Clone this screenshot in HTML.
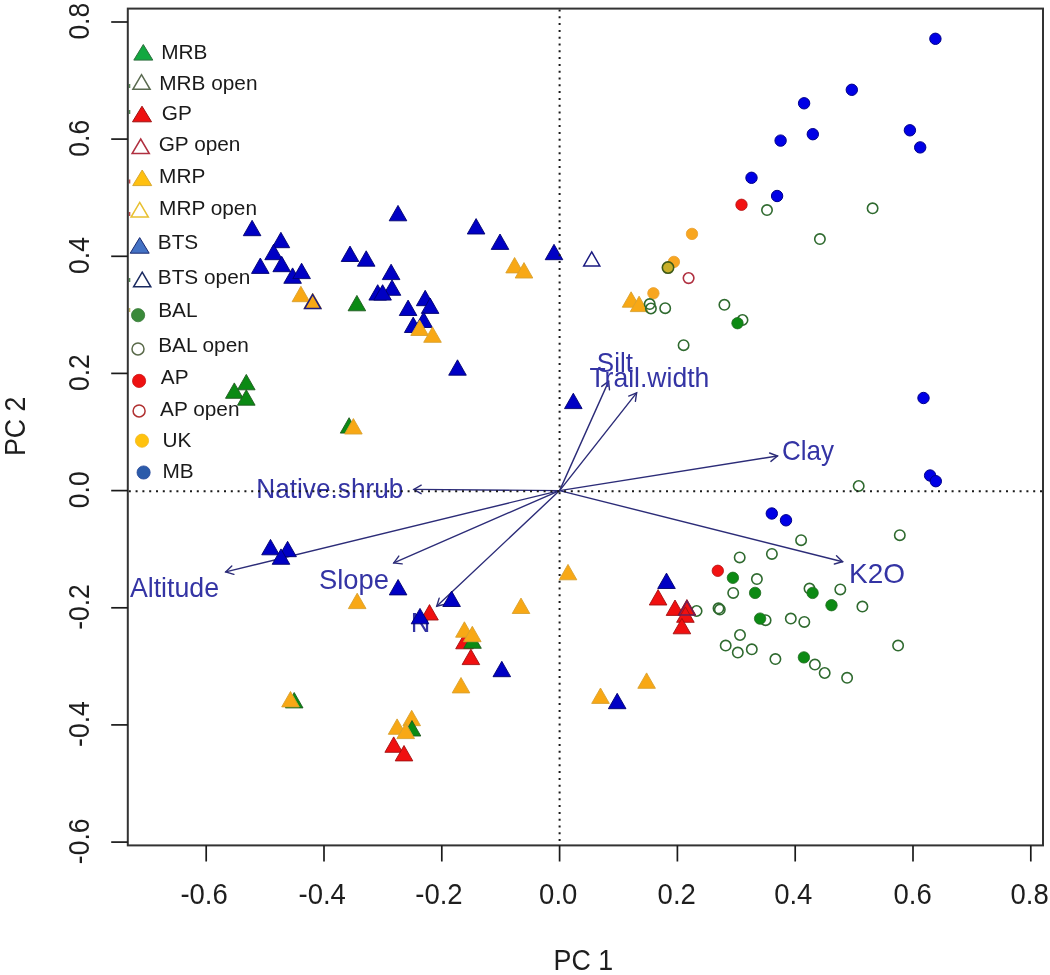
<!DOCTYPE html>
<html><head><meta charset="utf-8"><title>PCA biplot</title>
<style>
html,body{margin:0;padding:0;background:#fff;}
body{width:1050px;height:975px;overflow:hidden;}
svg{display:block;filter:blur(0.35px);}
</style></head>
<body>
<svg width="1050" height="975" viewBox="0 0 1050 975">
<rect width="1050" height="975" fill="#fff"/>
<g stroke="#2c2c78" stroke-width="1.4" fill="none" stroke-linecap="round">
<line x1="559.6" y1="490.6" x2="413.8" y2="489.4"/>
<path d="M421.2,485.2 L413.8,489.4 L421.1,493.7"/>
<line x1="559.6" y1="490.6" x2="225.7" y2="571.9"/>
<path d="M231.8,566.0 L225.7,571.9 L233.9,574.3"/>
<line x1="559.6" y1="490.6" x2="393.8" y2="562.9"/>
<path d="M398.8,556.1 L393.8,562.9 L402.2,563.9"/>
<line x1="559.6" y1="490.6" x2="436.7" y2="606.2"/>
<path d="M439.2,598.1 L436.7,606.2 L445.0,604.3"/>
<line x1="559.6" y1="490.6" x2="608.6" y2="381.4"/>
<path d="M609.5,389.9 L608.6,381.4 L601.7,386.4"/>
<line x1="559.6" y1="490.6" x2="636.6" y2="392.9"/>
<path d="M635.4,401.3 L636.6,392.9 L628.7,396.1"/>
<line x1="559.6" y1="490.6" x2="777.5" y2="456.0"/>
<path d="M770.9,461.4 L777.5,456.0 L769.6,453.0"/>
<line x1="559.6" y1="490.6" x2="842.6" y2="561.7"/>
<path d="M834.4,564.0 L842.6,561.7 L836.5,555.8"/>
</g>
<g font-family="Liberation Sans, sans-serif" font-size="27.5" fill="#3434a4">
<text x="256.26" y="498.3" textLength="147.12" lengthAdjust="spacingAndGlyphs">Native.shrub</text>
<text x="129.88" y="597.4" textLength="89.21" lengthAdjust="spacingAndGlyphs">Altitude</text>
<text x="319.06" y="589.0" textLength="69.95" lengthAdjust="spacingAndGlyphs">Slope</text>
<text x="410.68" y="632.3" textLength="19.63" lengthAdjust="spacingAndGlyphs">N</text>
<text x="596.82" y="371.6" textLength="36.07" lengthAdjust="spacingAndGlyphs">Silt</text>
<text x="589.40" y="386.5" textLength="119.93" lengthAdjust="spacingAndGlyphs">Trail.width</text>
<text x="782.00" y="459.7" textLength="52.13" lengthAdjust="spacingAndGlyphs">Clay</text>
<text x="849.01" y="583.3" textLength="55.99" lengthAdjust="spacingAndGlyphs">K2O</text>
</g>
<circle cx="935.4" cy="38.8" r="5.7" fill="#0000e6" stroke="#00008a" stroke-width="1"/>
<circle cx="851.8" cy="89.8" r="5.7" fill="#0000e6" stroke="#00008a" stroke-width="1"/>
<circle cx="804.1" cy="103.3" r="5.7" fill="#0000e6" stroke="#00008a" stroke-width="1"/>
<circle cx="909.9" cy="130.3" r="5.7" fill="#0000e6" stroke="#00008a" stroke-width="1"/>
<circle cx="812.8" cy="134.2" r="5.7" fill="#0000e6" stroke="#00008a" stroke-width="1"/>
<circle cx="780.6" cy="140.6" r="5.7" fill="#0000e6" stroke="#00008a" stroke-width="1"/>
<circle cx="920.2" cy="147.4" r="5.7" fill="#0000e6" stroke="#00008a" stroke-width="1"/>
<circle cx="751.5" cy="177.8" r="5.7" fill="#0000e6" stroke="#00008a" stroke-width="1"/>
<circle cx="777.1" cy="196.0" r="5.7" fill="#0000e6" stroke="#00008a" stroke-width="1"/>
<circle cx="923.5" cy="398.0" r="5.7" fill="#0000e6" stroke="#00008a" stroke-width="1"/>
<circle cx="930.1" cy="475.5" r="5.7" fill="#0000e6" stroke="#00008a" stroke-width="1"/>
<circle cx="935.8" cy="481.2" r="5.7" fill="#0000e6" stroke="#00008a" stroke-width="1"/>
<circle cx="771.8" cy="513.5" r="5.7" fill="#0000e6" stroke="#00008a" stroke-width="1"/>
<circle cx="786.0" cy="520.3" r="5.7" fill="#0000e6" stroke="#00008a" stroke-width="1"/>
<circle cx="741.5" cy="204.8" r="5.7" fill="#f21212" stroke="#b01010" stroke-width="0.8"/>
<circle cx="717.8" cy="570.8" r="5.7" fill="#f21212" stroke="#b01010" stroke-width="0.8"/>
<circle cx="688.6" cy="278.1" r="5.3" fill="none" stroke="#b03040" stroke-width="1.6"/>
<circle cx="692.0" cy="233.9" r="5.7" fill="#f8a620" stroke="#e8a030" stroke-width="0.8"/>
<circle cx="673.9" cy="261.9" r="5.7" fill="#f8a620" stroke="#e8a030" stroke-width="0.8"/>
<circle cx="653.4" cy="293.3" r="5.7" fill="#f8a620" stroke="#e8a030" stroke-width="0.8"/>
<circle cx="668.0" cy="267.6" r="5.7" fill="#c8b02a" stroke="#3e5a18" stroke-width="1.6"/>
<circle cx="767.0" cy="210.1" r="5.2" fill="none" stroke="#2f6a2f" stroke-width="1.6"/>
<circle cx="872.6" cy="208.3" r="5.2" fill="none" stroke="#2f6a2f" stroke-width="1.6"/>
<circle cx="819.9" cy="239.1" r="5.2" fill="none" stroke="#2f6a2f" stroke-width="1.6"/>
<circle cx="724.4" cy="304.8" r="5.2" fill="none" stroke="#2f6a2f" stroke-width="1.6"/>
<circle cx="742.5" cy="320.0" r="5.2" fill="none" stroke="#2f6a2f" stroke-width="1.6"/>
<circle cx="683.6" cy="345.2" r="5.2" fill="none" stroke="#2f6a2f" stroke-width="1.6"/>
<circle cx="858.7" cy="486.0" r="5.2" fill="none" stroke="#2f6a2f" stroke-width="1.6"/>
<circle cx="899.8" cy="535.2" r="5.2" fill="none" stroke="#2f6a2f" stroke-width="1.6"/>
<circle cx="801.1" cy="540.2" r="5.2" fill="none" stroke="#2f6a2f" stroke-width="1.6"/>
<circle cx="739.7" cy="557.4" r="5.2" fill="none" stroke="#2f6a2f" stroke-width="1.6"/>
<circle cx="771.9" cy="553.9" r="5.2" fill="none" stroke="#2f6a2f" stroke-width="1.6"/>
<circle cx="756.9" cy="579.1" r="5.2" fill="none" stroke="#2f6a2f" stroke-width="1.6"/>
<circle cx="733.2" cy="592.9" r="5.2" fill="none" stroke="#2f6a2f" stroke-width="1.6"/>
<circle cx="809.5" cy="588.6" r="5.2" fill="none" stroke="#2f6a2f" stroke-width="1.6"/>
<circle cx="840.3" cy="589.4" r="5.2" fill="none" stroke="#2f6a2f" stroke-width="1.6"/>
<circle cx="862.4" cy="606.6" r="5.2" fill="none" stroke="#2f6a2f" stroke-width="1.6"/>
<circle cx="718.5" cy="608.3" r="5.2" fill="none" stroke="#2f6a2f" stroke-width="1.6"/>
<circle cx="719.8" cy="609.6" r="5.2" fill="none" stroke="#2f6a2f" stroke-width="1.6"/>
<circle cx="696.6" cy="611.0" r="5.2" fill="none" stroke="#2f6a2f" stroke-width="1.6"/>
<circle cx="765.6" cy="620.2" r="5.2" fill="none" stroke="#2f6a2f" stroke-width="1.6"/>
<circle cx="790.8" cy="618.6" r="5.2" fill="none" stroke="#2f6a2f" stroke-width="1.6"/>
<circle cx="804.3" cy="621.9" r="5.2" fill="none" stroke="#2f6a2f" stroke-width="1.6"/>
<circle cx="740.0" cy="635.0" r="5.2" fill="none" stroke="#2f6a2f" stroke-width="1.6"/>
<circle cx="725.7" cy="645.6" r="5.2" fill="none" stroke="#2f6a2f" stroke-width="1.6"/>
<circle cx="737.8" cy="652.6" r="5.2" fill="none" stroke="#2f6a2f" stroke-width="1.6"/>
<circle cx="751.8" cy="649.3" r="5.2" fill="none" stroke="#2f6a2f" stroke-width="1.6"/>
<circle cx="775.4" cy="659.1" r="5.2" fill="none" stroke="#2f6a2f" stroke-width="1.6"/>
<circle cx="814.9" cy="664.6" r="5.2" fill="none" stroke="#2f6a2f" stroke-width="1.6"/>
<circle cx="824.7" cy="673.0" r="5.2" fill="none" stroke="#2f6a2f" stroke-width="1.6"/>
<circle cx="847.1" cy="677.8" r="5.2" fill="none" stroke="#2f6a2f" stroke-width="1.6"/>
<circle cx="898.1" cy="645.6" r="5.2" fill="none" stroke="#2f6a2f" stroke-width="1.6"/>
<circle cx="737.5" cy="323.2" r="5.7" fill="#0d8a14" stroke="#1f6a1f" stroke-width="0.8"/>
<circle cx="732.9" cy="577.8" r="5.7" fill="#0d8a14" stroke="#1f6a1f" stroke-width="0.8"/>
<circle cx="755.1" cy="592.9" r="5.7" fill="#0d8a14" stroke="#1f6a1f" stroke-width="0.8"/>
<circle cx="812.6" cy="592.9" r="5.7" fill="#0d8a14" stroke="#1f6a1f" stroke-width="0.8"/>
<circle cx="831.5" cy="605.2" r="5.7" fill="#0d8a14" stroke="#1f6a1f" stroke-width="0.8"/>
<circle cx="760.1" cy="618.6" r="5.7" fill="#0d8a14" stroke="#1f6a1f" stroke-width="0.8"/>
<circle cx="803.9" cy="657.4" r="5.7" fill="#0d8a14" stroke="#1f6a1f" stroke-width="0.8"/>
<g stroke-width="0.9" stroke-linejoin="miter">
<polygon points="252.1,220.3 260.9,235.7 243.3,235.7" fill="#0000c4" stroke="#00006e"/>
<polygon points="280.9,232.3 289.7,247.7 272.1,247.7" fill="#0000c4" stroke="#00006e"/>
<polygon points="273.6,244.3 282.4,259.7 264.8,259.7" fill="#0000c4" stroke="#00006e"/>
<polygon points="260.3,258.0 269.1,273.4 251.5,273.4" fill="#0000c4" stroke="#00006e"/>
<polygon points="281.7,256.3 290.5,271.7 272.9,271.7" fill="#0000c4" stroke="#00006e"/>
<polygon points="292.6,267.9 301.4,283.3 283.8,283.3" fill="#0000c4" stroke="#00006e"/>
<polygon points="301.6,263.2 310.4,278.6 292.8,278.6" fill="#0000c4" stroke="#00006e"/>
<polygon points="300.9,286.3 309.7,301.7 292.1,301.7" fill="#f8a815" stroke="#d8a030"/>
<polygon points="312.7,293.2 321.5,308.6 303.9,308.6" fill="#f8a815" stroke="#d8a030"/>
<polygon points="356.9,295.4 365.7,310.8 348.1,310.8" fill="#0b8a14" stroke="#1f5a1f"/>
<polygon points="398.0,205.4 406.8,220.8 389.2,220.8" fill="#0000c4" stroke="#00006e"/>
<polygon points="350.0,246.1 358.8,261.5 341.2,261.5" fill="#0000c4" stroke="#00006e"/>
<polygon points="366.2,250.8 375.0,266.2 357.4,266.2" fill="#0000c4" stroke="#00006e"/>
<polygon points="391.1,264.2 399.9,279.6 382.3,279.6" fill="#0000c4" stroke="#00006e"/>
<polygon points="392.0,279.9 400.8,295.3 383.2,295.3" fill="#0000c4" stroke="#00006e"/>
<polygon points="377.7,284.7 386.5,300.1 368.9,300.1" fill="#0000c4" stroke="#00006e"/>
<polygon points="382.6,284.7 391.4,300.1 373.8,300.1" fill="#0000c4" stroke="#00006e"/>
<polygon points="425.2,290.3 434.0,305.7 416.4,305.7" fill="#0000c4" stroke="#00006e"/>
<polygon points="430.1,298.0 438.9,313.4 421.3,313.4" fill="#0000c4" stroke="#00006e"/>
<polygon points="408.1,300.1 416.9,315.5 399.3,315.5" fill="#0000c4" stroke="#00006e"/>
<polygon points="413.2,317.1 422.0,332.5 404.4,332.5" fill="#0000c4" stroke="#00006e"/>
<polygon points="423.6,312.1 432.4,327.5 414.8,327.5" fill="#0000c4" stroke="#00006e"/>
<polygon points="419.6,320.1 428.4,335.5 410.8,335.5" fill="#f8a815" stroke="#d8a030"/>
<polygon points="432.5,326.9 441.3,342.3 423.7,342.3" fill="#f8a815" stroke="#d8a030"/>
<polygon points="476.1,218.6 484.9,234.0 467.3,234.0" fill="#0000c4" stroke="#00006e"/>
<polygon points="500.0,234.0 508.8,249.4 491.2,249.4" fill="#0000c4" stroke="#00006e"/>
<polygon points="514.6,257.5 523.4,272.9 505.8,272.9" fill="#f8a815" stroke="#d8a030"/>
<polygon points="524.0,262.6 532.8,278.0 515.2,278.0" fill="#f8a815" stroke="#d8a030"/>
<polygon points="554.0,244.3 562.8,259.7 545.2,259.7" fill="#0000c4" stroke="#00006e"/>
<polygon points="457.5,359.8 466.3,375.2 448.7,375.2" fill="#0000c4" stroke="#00006e"/>
<polygon points="573.3,393.2 582.1,408.6 564.5,408.6" fill="#0000c4" stroke="#00006e"/>
<polygon points="246.3,374.4 255.1,389.8 237.5,389.8" fill="#0b8a14" stroke="#1f5a1f"/>
<polygon points="234.3,382.9 243.1,398.3 225.5,398.3" fill="#0b8a14" stroke="#1f5a1f"/>
<polygon points="246.3,389.8 255.1,405.2 237.5,405.2" fill="#0b8a14" stroke="#1f5a1f"/>
<polygon points="349.1,417.7 357.9,433.1 340.3,433.1" fill="#0b8a14" stroke="#1f5a1f"/>
<polygon points="353.4,418.6 362.2,434.0 344.6,434.0" fill="#f8a815" stroke="#d8a030"/>
<polygon points="631.1,291.8 639.9,307.2 622.3,307.2" fill="#f8a815" stroke="#d8a030"/>
<polygon points="639.1,296.2 647.9,311.6 630.3,311.6" fill="#f8a815" stroke="#d8a030"/>
<polygon points="270.5,539.4 279.3,554.8 261.7,554.8" fill="#0000c4" stroke="#00006e"/>
<polygon points="287.6,541.3 296.4,556.7 278.8,556.7" fill="#0000c4" stroke="#00006e"/>
<polygon points="281.0,548.9 289.8,564.3 272.2,564.3" fill="#0000c4" stroke="#00006e"/>
<polygon points="398.1,579.5 406.9,594.9 389.3,594.9" fill="#0000c4" stroke="#00006e"/>
<polygon points="357.2,593.2 366.0,608.6 348.4,608.6" fill="#f8a815" stroke="#d8a030"/>
<polygon points="451.6,591.1 460.4,606.5 442.8,606.5" fill="#0000c4" stroke="#00006e"/>
<polygon points="429.5,604.6 438.3,620.0 420.7,620.0" fill="#f01010" stroke="#a01010"/>
<polygon points="420.0,608.4 428.8,623.8 411.2,623.8" fill="#0000c4" stroke="#00006e"/>
<polygon points="464.5,633.4 473.3,648.8 455.7,648.8" fill="#f01010" stroke="#a01010"/>
<polygon points="472.5,632.9 481.3,648.3 463.7,648.3" fill="#0b8a14" stroke="#1f5a1f"/>
<polygon points="464.4,621.8 473.2,637.2 455.6,637.2" fill="#f8a815" stroke="#d8a030"/>
<polygon points="472.3,626.3 481.1,641.7 463.5,641.7" fill="#f8a815" stroke="#d8a030"/>
<polygon points="470.9,649.2 479.7,664.6 462.1,664.6" fill="#f01010" stroke="#a01010"/>
<polygon points="501.8,661.3 510.6,676.7 493.0,676.7" fill="#0000c4" stroke="#00006e"/>
<polygon points="461.0,677.5 469.8,692.9 452.2,692.9" fill="#f8a815" stroke="#d8a030"/>
<polygon points="521.0,598.1 529.8,613.5 512.2,613.5" fill="#f8a815" stroke="#d8a030"/>
<polygon points="568.0,564.4 576.8,579.8 559.2,579.8" fill="#f8a815" stroke="#d8a030"/>
<polygon points="294.2,692.5 303.0,707.9 285.4,707.9" fill="#0b8a14" stroke="#1f5a1f"/>
<polygon points="290.5,691.5 299.3,706.9 281.7,706.9" fill="#f8a815" stroke="#d8a030"/>
<polygon points="411.7,710.3 420.5,725.7 402.9,725.7" fill="#f8a815" stroke="#d8a030"/>
<polygon points="397.1,718.9 405.9,734.3 388.3,734.3" fill="#f8a815" stroke="#d8a030"/>
<polygon points="412.0,720.6 420.8,736.0 403.2,736.0" fill="#0b8a14" stroke="#1f5a1f"/>
<polygon points="405.7,723.2 414.5,738.6 396.9,738.6" fill="#f8a815" stroke="#d8a030"/>
<polygon points="393.7,736.9 402.5,752.3 384.9,752.3" fill="#f01010" stroke="#a01010"/>
<polygon points="404.0,745.5 412.8,760.9 395.2,760.9" fill="#f01010" stroke="#a01010"/>
<polygon points="666.5,573.1 675.3,588.5 657.7,588.5" fill="#0000c4" stroke="#00006e"/>
<polygon points="658.1,589.6 666.9,605.0 649.3,605.0" fill="#f01010" stroke="#a01010"/>
<polygon points="675.0,600.0 683.8,615.4 666.2,615.4" fill="#f01010" stroke="#a01010"/>
<polygon points="686.9,599.6 695.7,615.0 678.1,615.0" fill="#f01010" stroke="#a01010"/>
<polygon points="685.4,606.9 694.2,622.3 676.6,622.3" fill="#f01010" stroke="#a01010"/>
<polygon points="681.9,618.4 690.7,633.8 673.1,633.8" fill="#f01010" stroke="#a01010"/>
<polygon points="646.6,672.9 655.4,688.3 637.8,688.3" fill="#f8a815" stroke="#d8a030"/>
<polygon points="600.5,688.0 609.3,703.4 591.7,703.4" fill="#f8a815" stroke="#d8a030"/>
<polygon points="617.2,693.3 626.0,708.7 608.4,708.7" fill="#0000c4" stroke="#00006e"/>
</g>
<g fill="none" stroke-width="1.5">
<polygon points="312.7,294.5 320.8,308.6 304.6,308.6" stroke="#1a1a80"/>
<polygon points="591.7,251.9 599.8,266.0 583.7,266.0" stroke="#1a1a80"/>
<polygon points="686.9,600.9 694.9,615.0 678.9,615.0" stroke="#6a2058"/>
</g>
<circle cx="649.7" cy="304.1" r="5.2" fill="none" stroke="#2f6a2f" stroke-width="1.6"/>
<circle cx="650.9" cy="308.5" r="5.2" fill="none" stroke="#2f6a2f" stroke-width="1.6"/>
<circle cx="665.2" cy="308.2" r="5.2" fill="none" stroke="#2f6a2f" stroke-width="1.6"/>
<rect x="129" y="30" width="130" height="455" fill="#fff" opacity="0"/>
<g stroke="#1a1a1a" stroke-width="2" stroke-dasharray="2 4.8" fill="none">
<line x1="128.8" y1="491.2" x2="1042" y2="491.2"/>
<line x1="559.6" y1="9.5" x2="559.6" y2="844.5"/>
</g>
<g font-family="Liberation Sans, sans-serif" font-size="20.8" fill="#1a1a1a">
<polygon points="143.3,44.5 152.8,60.1 133.8,60.1" fill="#12a840" stroke="#2e6f3e" stroke-width="1"/>
<text x="161.2" y="59.4">MRB</text>
<polygon points="141.5,74.7 150.1,89.3 132.9,89.3" fill="none" stroke="#5a6a50" stroke-width="1.5"/>
<text x="159.2" y="90.0">MRB open</text>
<polygon points="142.0,106.2 151.5,121.8 132.5,121.8" fill="#ee1010" stroke="#a01010" stroke-width="1"/>
<text x="161.8" y="120.0">GP</text>
<polygon points="140.7,139.0 149.3,153.6 132.1,153.6" fill="none" stroke="#b03040" stroke-width="1.5"/>
<text x="158.7" y="150.5">GP open</text>
<polygon points="142.2,170.0 151.7,185.6 132.7,185.6" fill="#ffc010" stroke="#d8a830" stroke-width="1"/>
<text x="159.1" y="182.8">MRP</text>
<polygon points="139.7,202.4 148.3,217.0 131.1,217.0" fill="none" stroke="#e8c030" stroke-width="1.5"/>
<text x="159.1" y="215.0">MRP open</text>
<polygon points="139.7,237.6 149.2,253.2 130.2,253.2" fill="#4472c4" stroke="#1a2a70" stroke-width="1"/>
<text x="157.8" y="248.5">BTS</text>
<polygon points="142.2,272.2 150.8,286.8 133.6,286.8" fill="none" stroke="#1a2a60" stroke-width="1.5"/>
<text x="157.8" y="284.2">BTS open</text>
<circle cx="138.1" cy="315.2" r="6.6" fill="#3a8a3a" stroke="#3a7a3a" stroke-width="0.8"/>
<text x="158.2" y="317.0">BAL</text>
<circle cx="138.0" cy="348.9" r="6.0" fill="none" stroke="#5a6a4a" stroke-width="1.5"/>
<text x="158.2" y="352.2">BAL open</text>
<circle cx="139.1" cy="380.9" r="6.6" fill="#ee1111" stroke="#cc1111" stroke-width="0.8"/>
<text x="160.8" y="383.5">AP</text>
<circle cx="139.1" cy="410.9" r="6.0" fill="none" stroke="#b03030" stroke-width="1.5"/>
<text x="160.1" y="415.8">AP open</text>
<circle cx="142.0" cy="440.7" r="6.6" fill="#ffc20e" stroke="#f0b820" stroke-width="0.8"/>
<text x="162.6" y="446.9">UK</text>
<circle cx="143.6" cy="472.5" r="6.6" fill="#2b5baa" stroke="#2b4b9a" stroke-width="0.8"/>
<text x="162.4" y="478.1">MB</text>
</g>
<rect x="128.7" y="84" width="1.6" height="4" fill="#2a6a2a" opacity="0.8"/>
<rect x="128.7" y="110" width="1.6" height="4" fill="#2a6a2a" opacity="0.8"/>
<rect x="128.7" y="179.5" width="1.6" height="4" fill="#b02020" opacity="0.8"/>
<rect x="128.7" y="212" width="1.6" height="4" fill="#b02020" opacity="0.8"/>
<rect x="128.7" y="278" width="1.6" height="4" fill="#2a6a2a" opacity="0.8"/>
<rect x="128.7" y="308" width="1.6" height="4" fill="#b0a040" opacity="0.8"/>
<rect x="127.8" y="8.6" width="915.2" height="836.8" fill="none" stroke="#333" stroke-width="2"/>
<g stroke="#1a1a1a" stroke-width="1.7">
<line x1="206.2" y1="845.4" x2="206.2" y2="861.5"/>
<line x1="324.0" y1="845.4" x2="324.0" y2="861.5"/>
<line x1="441.8" y1="845.4" x2="441.8" y2="861.5"/>
<line x1="559.6" y1="845.4" x2="559.6" y2="861.5"/>
<line x1="677.4" y1="845.4" x2="677.4" y2="861.5"/>
<line x1="795.2" y1="845.4" x2="795.2" y2="861.5"/>
<line x1="913.0" y1="845.4" x2="913.0" y2="861.5"/>
<line x1="1030.8" y1="845.4" x2="1030.8" y2="861.5"/>
<line x1="111.2" y1="22.0" x2="127.8" y2="22.0"/>
<line x1="111.2" y1="139.1" x2="127.8" y2="139.1"/>
<line x1="111.2" y1="256.3" x2="127.8" y2="256.3"/>
<line x1="111.2" y1="373.4" x2="127.8" y2="373.4"/>
<line x1="111.2" y1="490.6" x2="127.8" y2="490.6"/>
<line x1="111.2" y1="607.8" x2="127.8" y2="607.8"/>
<line x1="111.2" y1="724.9" x2="127.8" y2="724.9"/>
<line x1="111.2" y1="842.1" x2="127.8" y2="842.1"/>
</g>
<g font-family="Liberation Sans, sans-serif" font-size="27.5" fill="#1e1e1e" text-anchor="middle">
<text x="0" y="0" transform="translate(204.1 904.4) scale(1 1.09)">-0.6</text>
<text x="0" y="0" transform="translate(322.2 904.4) scale(1 1.09)">-0.4</text>
<text x="0" y="0" transform="translate(438.9 904.4) scale(1 1.09)">-0.2</text>
<text x="0" y="0" transform="translate(558.2 904.4) scale(1 1.09)">0.0</text>
<text x="0" y="0" transform="translate(676.7 904.4) scale(1 1.09)">0.2</text>
<text x="0" y="0" transform="translate(793.3 904.4) scale(1 1.09)">0.4</text>
<text x="0" y="0" transform="translate(912.6 904.4) scale(1 1.09)">0.6</text>
<text x="0" y="0" transform="translate(1029.6 904.4) scale(1 1.09)">0.8</text>
</g>
<g font-family="Liberation Sans, sans-serif" font-size="26.5" fill="#1e1e1e" text-anchor="middle">
<text x="0" y="0" transform="translate(88.9 21.2) rotate(-90) scale(1 1.12)">0.8</text>
<text x="0" y="0" transform="translate(88.9 138.3) rotate(-90) scale(1 1.12)">0.6</text>
<text x="0" y="0" transform="translate(88.9 255.5) rotate(-90) scale(1 1.12)">0.4</text>
<text x="0" y="0" transform="translate(88.9 372.6) rotate(-90) scale(1 1.12)">0.2</text>
<text x="0" y="0" transform="translate(88.9 489.8) rotate(-90) scale(1 1.12)">0.0</text>
<text x="0" y="0" transform="translate(88.9 607.0) rotate(-90) scale(1 1.12)">-0.2</text>
<text x="0" y="0" transform="translate(88.9 724.1) rotate(-90) scale(1 1.12)">-0.4</text>
<text x="0" y="0" transform="translate(88.9 841.3) rotate(-90) scale(1 1.12)">-0.6</text>
</g>
<g font-family="Liberation Sans, sans-serif" font-size="26.8" fill="#1e1e1e" text-anchor="middle">
<text x="0" y="0" transform="translate(583.4 970) scale(1 1.07)">PC 1</text>
<text x="0" y="0" transform="translate(25.1 426.3) rotate(-90) scale(1 1.09)">PC 2</text>
</g>
</svg>
</body></html>
